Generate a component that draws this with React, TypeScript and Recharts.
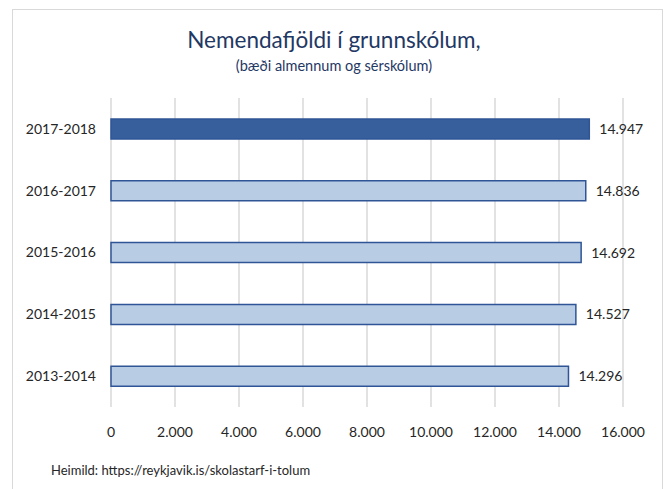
import React from "react";
import { BarChart, Bar, XAxis, YAxis, CartesianGrid, LabelList, Cell } from "recharts";

const categories = ["2017-2018", "2016-2017", "2015-2016", "2014-2015", "2013-2014"];
const values = [14947, 14836, 14692, 14527, 14296];
const xTicks = [0, 2000, 4000, 6000, 8000, 10000, 12000, 14000, 16000];

const data = categories.map((c, i) => ({ name: c, value: values[i] }));

const fmt = (v: number) => String(v).replace(/\B(?=(\d{3})+(?!\d))/g, ".");
const FONT = "Lato, 'Open Sans', sans-serif";

export default function App() {
  return (
    <div style={{ position: "absolute", left: 0, top: 0, width: 668, height: 489, background: "#fff", overflow: "hidden", fontFamily: FONT }}>
      <div style={{ position: "absolute", left: 12, top: 9, width: 651, height: 500, border: "1px solid #d9d9d9", boxSizing: "border-box" }} />
      <div style={{ position: "absolute", left: 0, width: 668, top: 26, textAlign: "center", color: "#1F3864", fontSize: 22.5, lineHeight: "28px" }}>
        Nemendafjöldi í grunnskólum,
      </div>
      <div style={{ position: "absolute", left: 0, width: 668, top: 56, textAlign: "center", color: "#1F3864", fontSize: 14.5, lineHeight: "20px" }}>
        (bæði almennum og sérskólum)
      </div>
      <div style={{ position: "absolute", left: 51, top: 461, color: "#262626", fontSize: 13, lineHeight: "18px" }}>
        Heimild: https://reykjavik.is/skolastarf-i-tolum
      </div>
      <div style={{ position: "absolute", left: 0, top: 0 }}>
        <BarChart
          width={668}
          height={489}
          data={data}
          layout="vertical"
          margin={{ top: 98, bottom: 52, left: 11, right: 45 }}
          barSize={20}
        >
          <CartesianGrid horizontal={false} stroke="#d9d9d9" strokeWidth={1.5} />
          <XAxis
            type="number"
            domain={[0, 16000]}
            ticks={xTicks}
            tickFormatter={fmt}
            axisLine={false}
            tickLine={false}
            tickMargin={14}
            interval={0}
            height={30}
            tick={{ fill: "#262626", fontSize: 14, fontFamily: FONT }}
          />
          <YAxis
            type="category"
            dataKey="name"
            width={100}
            axisLine={false}
            tickLine={false}
            tickMargin={9}
            tick={{ fill: "#262626", fontSize: 14, fontFamily: FONT }}
          />
          <Bar dataKey="value" isAnimationActive={false} stroke="#2F5597" strokeWidth={1.5}>
            {data.map((d, i) => (
              <Cell key={d.name} fill={i === 0 ? "#365F9B" : "#B8CCE4"} />
            ))}
            <LabelList dataKey="value" position="right" offset={10} formatter={(v: any) => fmt(Number(v))} fill="#262626" fontSize={14} fontFamily={FONT} />
          </Bar>
        </BarChart>
      </div>
    </div>
  );
}
